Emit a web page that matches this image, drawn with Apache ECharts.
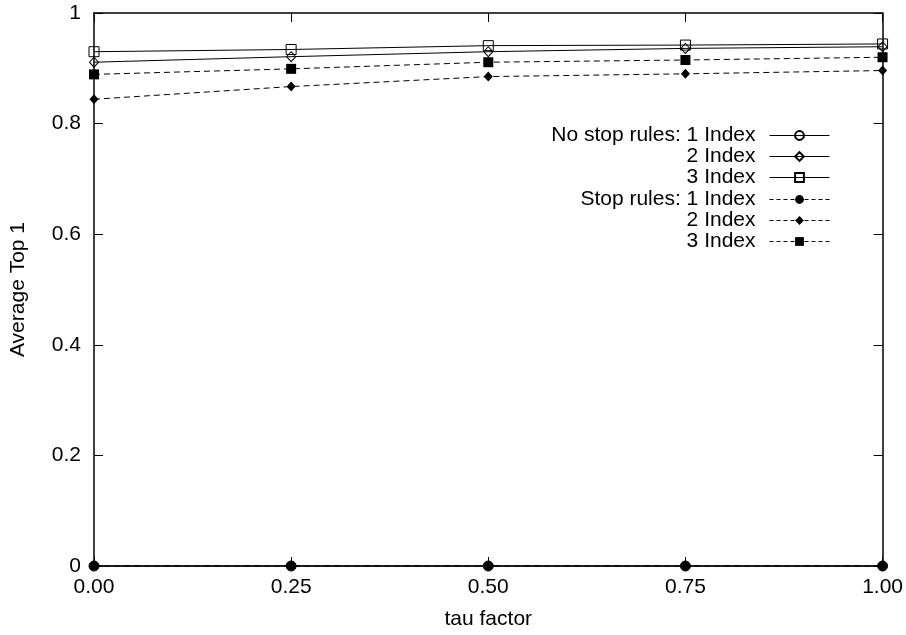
<!DOCTYPE html>
<html>
<head>
<meta charset="utf-8">
<script src="https://cdn.jsdelivr.net/npm/echarts@6/dist/echarts.min.js"></script>
<style>
  html, body { margin: 0; padding: 0; background: #fff; }
  #chart { width: 906px; height: 635px; }
</style>
</head>
<body>
<div id="chart"></div>
<script>
// tau factor values along x
var tau = [0, 0.25, 0.5, 0.75, 1.0];
var xTicks = [0, 0.25, 0.5, 0.75, 1.0];
var yTicks = [0, 0.2, 0.4, 0.6, 0.8, 1];

// average top 1, no stop rules
var noStop1 = [0, 0, 0, 0, 0];
var noStop2 = [0.911, 0.921, 0.930, 0.936, 0.939];
var noStop3 = [0.930, 0.934, 0.941, 0.942, 0.944];

// average top 1, stop rules
var stop1 = [0, 0, 0, 0, 0];
var stop2 = [0.844, 0.867, 0.885, 0.890, 0.896];
var stop3 = [0.889, 0.899, 0.911, 0.915, 0.920];

var names = ['No stop rules: 1 Index', 'No stop rules: 2 Index', 'No stop rules: 3 Index',
             'Stop rules: 1 Index', 'Stop rules: 2 Index', 'Stop rules: 3 Index'];
var labels = ['No stop rules: 1 Index', '2 Index', '3 Index',
              'Stop rules: 1 Index', '2 Index', '3 Index'];

var font = "'Liberation Sans', Arial, Helvetica, sans-serif";

function pairs(ys) {
  return tau.map(function (x, i) { return [x, ys[i]]; });
}

function makeSeries(name, ys, symbol, filled, dashed) {
  return {
    name: name,
    type: 'line',
    data: pairs(ys),
    symbol: symbol,
    symbolSize: symbol === 'diamond' ? [9, 10] : 10,
    clip: false,
    lineStyle: { color: '#000', width: 1, type: dashed ? [6, 4] : 'solid' },
    itemStyle: filled
      ? { color: '#000', borderColor: '#000', borderWidth: 0 }
      : { color: 'rgba(0,0,0,0)', borderColor: '#000', borderWidth: 1 },
    emphasis: { disabled: true },
    animation: false
  };
}

var legendTops = [125, 146, 167, 189, 210, 231];
var legends = names.map(function (n, i) {
  return {
    data: [n],
    right: 76,
    top: legendTops[i],
    orient: 'vertical',
    align: 'right',
    padding: 0,
    itemWidth: 60,
    itemHeight: 11,
    selectedMode: false,
    formatter: function () { return labels[i]; },
    lineStyle: { width: 1, type: i < 3 ? 'solid' : [4, 3] },
    textStyle: { fontFamily: font, fontSize: 21, color: '#000', lineHeight: 20, padding: [0, 9, 0, 0] }
  };
});

var axisBase = {
  type: 'value',
  min: 0,
  max: 1,
  axisLine: { show: true, onZero: false, lineStyle: { color: '#000', width: 1.5 } },
  axisTick: { show: true, inside: true, length: 9, lineStyle: { color: '#000', width: 1 } },
  splitLine: { show: false }
};

var chart = echarts.init(document.getElementById('chart'));
var option = {
  backgroundColor: '#fff',
  animation: false,
  legend: legends,
  grid: { left: 93, right: 23, top: 13, bottom: 66 },
  xAxis: [
    Object.assign({}, axisBase, {
      position: 'bottom',
      interval: xTicks[1] - xTicks[0],
      name: 'tau factor',
      nameLocation: 'middle',
      nameGap: 43,
      nameTextStyle: { fontFamily: font, fontSize: 21, color: '#000' },
      axisLabel: {
        margin: 11, fontFamily: font, fontSize: 21, color: '#000',
        formatter: function (v) { return v.toFixed(2); }
      }
    }),
    Object.assign({}, axisBase, {
      position: 'top',
      interval: xTicks[1] - xTicks[0],
      axisLabel: { show: false }
    })
  ],
  yAxis: [
    Object.assign({}, axisBase, {
      position: 'left',
      interval: yTicks[1] - yTicks[0],
      name: 'Average Top 1',
      nameLocation: 'middle',
      nameGap: 65,
      nameTextStyle: { fontFamily: font, fontSize: 21, color: '#000' },
      axisLabel: { margin: 13, fontFamily: font, fontSize: 21, color: '#000' }
    }),
    Object.assign({}, axisBase, {
      position: 'right',
      interval: yTicks[1] - yTicks[0],
      axisLabel: { show: false }
    })
  ],
  series: [
    makeSeries(names[0], noStop1, 'circle', false, false),
    makeSeries(names[1], noStop2, 'diamond', false, false),
    makeSeries(names[2], noStop3, 'rect', false, false),
    makeSeries(names[3], stop1, 'circle', true, true),
    makeSeries(names[4], stop2, 'diamond', true, true),
    makeSeries(names[5], stop3, 'rect', true, true)
  ]
};
chart.setOption(option);
</script>
</body>
</html>
